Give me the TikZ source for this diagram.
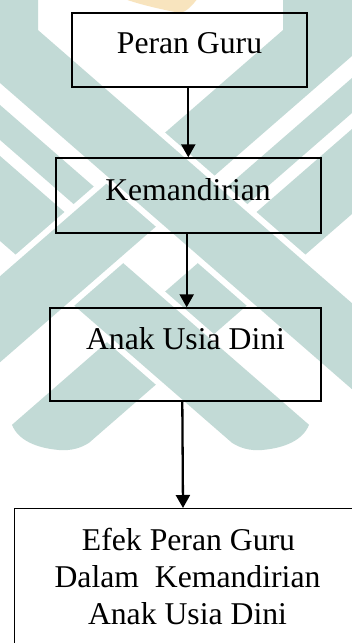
\documentclass[tikz,border=0pt]{standalone}
\usepackage{fontspec}
\setmainfont{Liberation Serif}
\usetikzlibrary{arrows.meta}
\definecolor{wmteal}{RGB}{194,218,214}
\definecolor{wmorange}{RGB}{248,228,190}
\begin{document}
\begin{tikzpicture}[x=1pt,y=-1pt,
  box/.style={draw=black,line width=1.4pt,rectangle,inner sep=0pt},
  lbl/.style={anchor=base,inner sep=0pt,font=\fontsize{31.7}{38}\selectfont},
  arr/.style={draw=black,line width=2.3pt,-{Triangle[width=14pt,length=13pt]}},
  wm/.style={fill=wmteal,preaction={draw=white,line width=12pt,line join=round}}]
\useasboundingbox (0,0) rectangle (352,643);
\clip (0,0) rectangle (352,643);
\fill[white] (0,0) rectangle (352,643);
% watermark (background logo)
\fill[wm] (362,120.3) -- (12,424.8) .. controls (18,440) and (36,448) .. (59,450) .. controls (71,451) and (81,448) .. (89,442.8) -- (362,205.3) -- cycle;
\fill[wm] (-41,120.3) -- (309,424.8) .. controls (303,440) and (285,448) .. (262,450) .. controls (250,451) and (240,448) .. (232,442.8) -- (-41,205.3) -- cycle;
\fill[wm] (-41,69.3) -- (120,209.4) -- (120,244.4) -- (-41,104.3) -- cycle;
\fill[wm] (362,69.3) -- (201,209.4) -- (201,244.4) -- (362,104.3) -- cycle;
\fill[wm] (362,-10) -- (283,-10) -- (283,30.06) -- (-41,311.9) -- (-41,397.9) -- (362,47.3) -- cycle;
\fill[wm] (-41,-10) -- (38,-10) -- (38,30.06) -- (362,311.9) -- (362,397.9) -- (-41,47.3) -- cycle;
\fill[wmorange] (122,-2) -- (198,-2) .. controls (192,6) and (186,12) .. (180,13) .. controls (165,10) and (140,5) .. (122,-2) -- cycle;
% boxes
\node[box,minimum width=235pt,minimum height=74pt] (b1) at (189.5,50) {};
\node[box,minimum width=265pt,minimum height=75pt] (b2) at (188.5,195.5) {};
\node[box,minimum width=271pt,minimum height=93pt] (b3) at (185.5,354.5) {};
\node[box,minimum width=348pt,minimum height=150pt,anchor=north west] (b4) at (14,508) {};
% texts
\node[lbl] (t1) at (189.5,53) {Peran Guru};
\node[lbl] (t2) at (188,200) {Kemandirian};
\node[lbl] (t3) at (185.5,349) {Anak Usia Dini};
\node[lbl] (t4a) at (188.5,550) {Efek Peran Guru};
\node[lbl] (t4b) at (187.5,587) {Dalam\ \ Kemandirian};
\node[lbl] (t4c) at (187.5,624) {Anak Usia Dini};
% arrows
\draw[arr] ([xshift=-1.2pt]b1.south) -- ([xshift=-0.2pt]b2.north);
\draw[arr] ([xshift=-1.8pt]b2.south) -- ([xshift=1.2pt]b3.north);
\draw[arr] ([xshift=-3.2pt]b3.south) -- ([xshift=-5.7pt]b4.north);
\end{tikzpicture}
\end{document}
